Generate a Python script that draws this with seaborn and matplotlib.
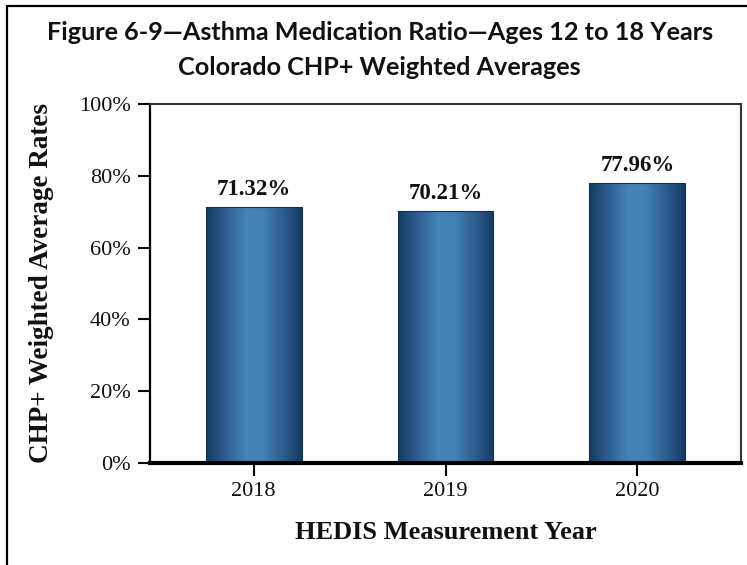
import numpy as np
import matplotlib
matplotlib.use("Agg")
import matplotlib.pyplot as plt
from matplotlib.colors import LinearSegmentedColormap
from matplotlib.lines import Line2D
import seaborn as sns
import pandas as pd

# Chart data
years = ["2018", "2019", "2020"]
rates = [71.32, 70.21, 77.96]
y_ticks = [0, 20, 40, 60, 80, 100]

title = ("Figure 6-9\u2014Asthma Medication Ratio\u2014Ages 12 to 18 Years\n"
         "Colorado CHP+ Weighted Averages")
x_title = "HEDIS Measurement Year"
y_title = "CHP+ Weighted Average Rates"

df = pd.DataFrame({"year": years, "rate": rates})

sns.set_theme(style="white")
plt.rcParams["font.family"] = ["Liberation Serif", "DejaVu Serif"]

fig = plt.figure(figsize=(7.47, 5.65), dpi=100)
ax = fig.add_axes([0.2008, 0.1805, 0.7912, 0.6355])

sns.barplot(data=df, x="year", y="rate", width=0.5, color="#2f6498",
            edgecolor="#142f50", linewidth=0.8, ax=ax, zorder=2)

# horizontal shading inside each bar: dark edges, lighter centre
shade = LinearSegmentedColormap.from_list(
    "barshade",
    [(0.0, "#163a60"), (0.12, "#24507f"), (0.42, "#4683b8"),
     (0.6, "#4380b5"), (0.88, "#24507f"), (1.0, "#163a60")])
grad = np.linspace(0, 1, 256).reshape(1, -1)
for p in ax.patches:
    x0, y0 = p.get_x(), p.get_y()
    w, h = p.get_width(), p.get_height()
    im = ax.imshow(grad, cmap=shade, aspect="auto",
                   extent=(x0, x0 + w, y0, y0 + h), zorder=2.5,
                   interpolation="bicubic")
    im.set_clip_path(p)
    p.set_facecolor("none")
    p.set_zorder(3)

ax.bar_label(ax.containers[0], labels=[f"{v:.2f}%" for v in rates],
             padding=5, fontsize=16.5, fontweight="bold", color="#111111",
             family=["Liberation Serif"])

ax.set_xlim(-0.54, 2.54)
ax.set_ylim(0, 100)
ax.set_yticks(y_ticks)
ax.set_yticklabels([f"{t}%" for t in y_ticks])
ax.tick_params(axis="both", which="both", direction="out", length=9,
               width=1.5, color="black", labelsize=16, labelcolor="#111111",
               pad=5, left=True, bottom=True)
for lbl in ax.get_xticklabels() + ax.get_yticklabels():
    lbl.set_family(["Liberation Serif"])

ax.set_xlabel(x_title, fontsize=19, fontweight="bold", labelpad=14,
              family=["Liberation Serif"], color="#111111")
ax.set_ylabel(y_title, fontsize=19.5, fontweight="bold", labelpad=18,
              family=["Liberation Serif"], color="#111111")

for side in ["top", "right"]:
    ax.spines[side].set_visible(True)
    ax.spines[side].set_color("#333333")
    ax.spines[side].set_linewidth(1.5)
ax.spines["left"].set_color("black")
ax.spines["left"].set_linewidth(1.6)
ax.spines["bottom"].set_color("black")
ax.spines["bottom"].set_linewidth(3)
ax.spines["bottom"].set_zorder(4)

fig.text(0.5083, 1 - 50 / 565, title, ha="center", va="center", fontsize=18.2,
         fontweight="bold", family=["Lato", "DejaVu Sans"], color="#111111",
         linespacing=1.6)

# outer frame of the figure
fig.add_artist(Line2D([7 / 747, 1.0], [1 - 6 / 565, 1 - 6 / 565],
                      transform=fig.transFigure, color="black", lw=1.6))
fig.add_artist(Line2D([7 / 747, 7 / 747], [0, 1 - 6 / 565],
                      transform=fig.transFigure, color="black", lw=1.6))

fig.savefig("out.png", dpi=100, facecolor="white")
